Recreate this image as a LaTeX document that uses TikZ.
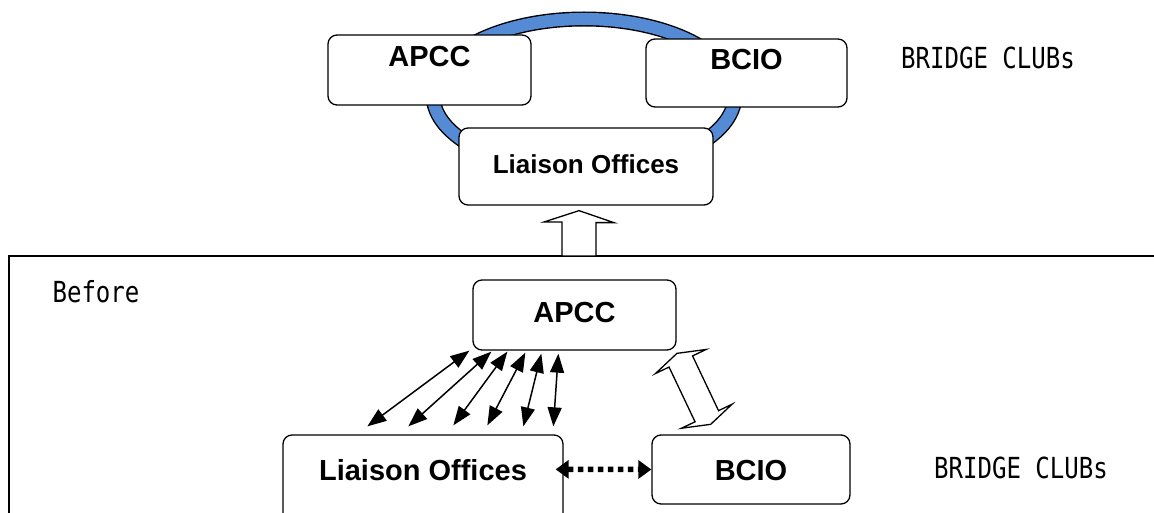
\documentclass[tikz,border=0pt]{standalone}
\usepackage{fontspec}
\setmainfont{Liberation Sans}
\newfontfamily\gothic[FakeStretch=0.83]{DejaVu Sans Mono}
\usetikzlibrary{calc,arrows.meta}
\definecolor{ringblue}{RGB}{84,139,212}
\begin{document}
\begin{tikzpicture}[x=1pt,y=-1pt,
  box/.style={draw, line width=1.3pt, rounded corners=9pt, fill=white,
    font=\bfseries\fontsize{29}{29}\selectfont, text height=21pt, inner sep=0pt},
  mono/.style={font=\gothic\fontsize{29}{29}\selectfont, text height=21pt, text depth=0pt, inner sep=0pt},
  thinarrow/.style={line width=1.5pt, {Triangle[length=19pt 0 0,width=14pt 0 0]}-{Triangle[length=19pt 0 0,width=14pt 0 0]}},
  dotarrow/.style={line width=5.5pt, dash pattern=on 5.5pt off 4.5pt, {Triangle[length=13pt 0 0,width=18pt 0 0]}-{Triangle[length=13pt 0 0,width=18pt 0 0]}},
  hollow/.style={draw, line width=1.3pt, fill=white, line join=miter}
]
\useasboundingbox (0,0) rectangle (1154,513);
\begin{scope}
\clip (0,0) rectangle (1154,513);
% ---- top (after) ----
\draw[line width=15pt] (584,95) ellipse [x radius=151, y radius=76];
\draw[line width=12.2pt, ringblue] (584,95) ellipse [x radius=151, y radius=76];
\node[box, minimum width=203pt, minimum height=70pt, text depth=28pt] (apccA) at (429.5,70) {APCC};
\node[box, minimum width=201pt, minimum height=68pt, text depth=28pt] (bcioA) at (746.5,73) {BCIO};
\node[box, minimum width=254pt, minimum height=77pt, font=\bfseries\fontsize{26}{26}\selectfont,
  text height=18.6pt, text depth=5pt] (liaisonA) at (586,166.5) {Liaison Offices};
\node[mono] (bridgeA) at (988,58) {BRIDGE CLUBs};
% ---- frame ----
\draw[line width=1.5pt] (1160,256) -- (9,256) -- (9,520);
\coordinate (frameTop) at (579,256);
\coordinate (upT) at ($(liaisonA.south)+(-7,5)$);
\draw[hollow] (upT) -- ++(35,12) -- ++(-18,0) -- (frameTop -| {596,0}) -- (frameTop -| {562,0}) -- ++(0,-34) -- ++(-18,0) -- cycle;
% ---- bottom (before) ----
\node[mono] (before) at (96,292) {Before};
\node[box, minimum width=203pt, minimum height=70pt, text depth=6pt] (apccB) at (574.5,315) {APCC};
\node[box, minimum width=280pt, minimum height=90pt, text depth=20pt] (liaisonB) at (423,480) {Liaison Offices};
\node[box, minimum width=198pt, minimum height=69pt, text depth=0pt] (bcioB) at (751,469.5) {BCIO};
\node[mono] (bridgeB) at (1021,468) {BRIDGE CLUBs};
% thin double arrows
\coordinate (u1) at ($(apccB.south west)+(-3,0)$);
\coordinate (u2) at ($(apccB.south west)+(19,1)$);
\coordinate (u3) at ($(apccB.south west)+(35,1)$);
\coordinate (u4) at ($(apccB.south west)+(53,2)$);
\coordinate (u5) at ($(apccB.south west)+(69,3)$);
\coordinate (u6) at ($(apccB.south west)+(86,3)$);
\coordinate (l1) at ($(liaisonB.north west)+(85,-8)$);
\coordinate (l2) at ($(liaisonB.north west)+(126,-8)$);
\coordinate (l3) at ($(liaisonB.north west)+(171,-9)$);
\coordinate (l4) at ($(liaisonB.north west)+(205,-9)$);
\coordinate (l5) at ($(liaisonB.north west)+(241,-8)$);
\coordinate (l6) at ($(liaisonB.north west)+(271,-8)$);
\foreach \i in {1,...,6} \draw[thinarrow] (l\i) -- (u\i);
% dotted double arrow
\coordinate (d1) at ($(liaisonB.north east)+(-8,35)$);
\draw[dotarrow] (d1) -- (bcioB.west);
% hollow slanted double arrow
\coordinate (hA) at ($(apccB.south east)+(0.3,2.7)$);
\coordinate (hB) at ($(bcioB.north west)+(59.3,-10)$);
\coordinate (hA1) at ($(hA)!9pt!(hB)$);
\coordinate (hB1) at ($(hB)!9pt!(hA)$);
\draw[hollow] (hA) -- ($(hA1)!28pt!90:(hB)$) -- ($(hA1)!13pt!90:(hB)$) -- ($(hB1)!13pt!-90:(hA)$)
  -- ($(hB1)!28pt!-90:(hA)$) -- (hB) -- ($(hB1)!28pt!90:(hA)$) -- ($(hB1)!13pt!90:(hA)$)
  -- ($(hA1)!13pt!-90:(hB)$) -- ($(hA1)!28pt!-90:(hB)$) -- cycle;
\end{scope}
\end{tikzpicture}
\end{document}
